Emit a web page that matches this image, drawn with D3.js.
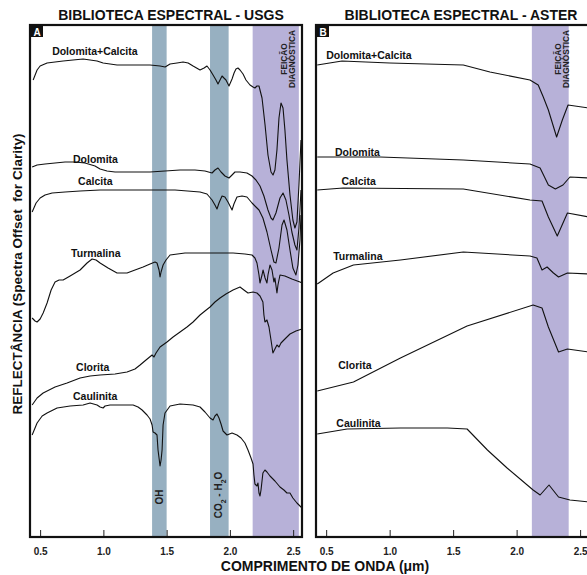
<!DOCTYPE html>
<html>
<head>
<meta charset="utf-8">
<script src="https://cdn.jsdelivr.net/npm/d3@7"></script>
<style>
  body { margin: 0; background: #fff; }
  svg text { font-family: Arial, "Liberation Sans", sans-serif; font-weight: bold; }
</style>
</head>
<body>
<div id="chart"></div>
<script>

// wavelength (um), reflectance + offset (arbitrary units)
var usgsDolCal = [[0.445,114.25],[0.476,116.75],[0.5,117.75],[0.555,118.5],[0.618,118.75],[0.682,119],[0.76,119.25],[0.84,119.5],[0.895,119.25],[0.95,119],[0.998,118.5],[1.053,118.25],[1.108,118],[1.211,118],[1.29,118],[1.369,118],[1.448,117.75],[1.488,117.5],[1.527,118.25],[1.582,118.5],[1.63,118.75],[1.67,118.5],[1.709,117.75],[1.764,116.75],[1.796,117.25],[1.819,117.75],[1.843,116.75],[1.867,115.5],[1.89,114.25],[1.906,113.25],[1.922,114.25],[1.938,115.25],[1.953,114.75],[1.969,114.25],[1.993,112.75],[2.017,114.5],[2.033,116],[2.048,117],[2.064,117.25],[2.08,116.75],[2.104,115.75],[2.127,114.25],[2.159,113],[2.183,112.5],[2.198,112.25],[2.214,112.75],[2.23,112.75],[2.254,109.75],[2.278,103],[2.301,95.5],[2.325,91.25],[2.341,90.5],[2.356,91.75],[2.372,96.75],[2.388,104.75],[2.404,108.5],[2.42,107.25],[2.435,101.75],[2.451,94.25],[2.475,85.5],[2.498,79.25],[2.514,77.25],[2.53,78.75],[2.546,88],[2.562,99.25]];
var usgsDolomita = [[0.437,92.5],[0.476,93],[0.539,93.25],[0.618,93.5],[0.697,93.75],[0.776,93.75],[0.855,93.5],[0.934,92.75],[0.974,92],[1.029,91.5],[1.092,91.25],[1.211,91.25],[1.369,91.25],[1.487,91.5],[1.606,91.75],[1.724,91.75],[1.803,91.5],[1.859,91],[1.882,91.75],[1.906,92.25],[1.93,91.25],[1.961,90.25],[1.993,89.75],[2.017,90.5],[2.04,91.25],[2.08,91.25],[2.135,91],[2.175,90.25],[2.206,89.25],[2.238,87.75],[2.269,85.25],[2.301,81.75],[2.325,79.75],[2.34,79.25],[2.364,81],[2.396,84.75],[2.42,86],[2.443,84.25],[2.467,80.5],[2.49,76.25],[2.514,73],[2.53,71.75],[2.546,77.25],[2.562,86.75]];
var usgsCalcita = [[0.437,81.25],[0.468,83.5],[0.5,84.75],[0.539,85.5],[0.595,86],[0.697,86.25],[0.816,86.5],[0.974,86.75],[1.132,86.75],[1.369,86.75],[1.566,86.75],[1.764,86.25],[1.819,85.75],[1.859,84.25],[1.882,83],[1.898,82],[1.914,83.5],[1.938,85.25],[1.961,85],[1.985,83.75],[2.017,81.75],[2.032,83.25],[2.056,85],[2.096,85.25],[2.135,85],[2.175,83.5],[2.206,82.5],[2.23,81.75],[2.261,79.75],[2.293,76.25],[2.325,71.75],[2.348,68.75],[2.364,68.5],[2.388,72.25],[2.412,78],[2.428,79.25],[2.451,76.75],[2.475,71.75],[2.498,67.25],[2.522,65.5],[2.538,68],[2.554,74.25],[2.562,80.5]];
var usgsTurmalina = [[0.437,54.75],[0.46,54],[0.476,53.75],[0.5,54.5],[0.524,56],[0.555,58.5],[0.587,61.75],[0.618,63.75],[0.65,64.25],[0.682,64.25],[0.737,65.25],[0.816,66.75],[0.871,68.5],[0.911,69.5],[0.942,69.25],[0.974,68.5],[1.037,67.25],[1.108,66],[1.187,66],[1.25,66.75],[1.314,67.5],[1.369,68.25],[1.408,68.75],[1.424,68.5],[1.44,66.75],[1.448,65],[1.456,66.25],[1.472,68],[1.495,69.25],[1.527,70.5],[1.645,71],[1.764,71],[1.922,71],[2.025,71],[2.119,70.75],[2.175,70.5],[2.198,69.75],[2.214,68.5],[2.23,65.5],[2.238,63.5],[2.254,65.5],[2.262,66.75],[2.278,64.75],[2.293,63.5],[2.301,65.5],[2.317,68],[2.333,66.75],[2.348,63.75],[2.356,64.75],[2.372,61],[2.38,63],[2.396,65.5],[2.435,65.25],[2.49,64.5],[2.554,63.75],[2.57,63.5]];
var usgsClorita = [[0.437,33],[0.476,34.75],[0.524,36],[0.618,37.5],[0.713,38.5],[0.816,39.75],[0.895,40.25],[0.974,40.5],[1.092,40.75],[1.187,41.25],[1.25,42],[1.29,43],[1.337,44.25],[1.385,45.5],[1.4,45],[1.416,46],[1.448,47.5],[1.503,48.75],[1.551,50],[1.606,51.25],[1.661,52.5],[1.709,53.75],[1.764,55.5],[1.803,56.5],[1.843,57.5],[1.882,58.75],[1.922,59.75],[1.969,60.75],[2.025,61.75],[2.08,62.5],[2.111,61.75],[2.143,61],[2.183,61.25],[2.214,61],[2.238,60.25],[2.261,58.75],[2.269,55.5],[2.277,53.75],[2.293,54.25],[2.309,52.5],[2.325,49.25],[2.34,46],[2.356,47],[2.372,48],[2.388,47.5],[2.404,48.5],[2.427,49.25],[2.475,50.75],[2.522,51.5],[2.57,52]];
var usgsCaulinita = [[0.437,25.5],[0.476,28.5],[0.516,30.25],[0.555,31],[0.634,32.25],[0.737,32.75],[0.84,33],[0.895,33.5],[0.95,33],[0.974,32.5],[0.998,32.25],[1.013,32.75],[1.053,33],[1.108,33],[1.235,33],[1.274,32.5],[1.306,31.75],[1.345,30.5],[1.369,29.5],[1.385,28],[1.393,26.25],[1.408,26],[1.424,25.5],[1.432,21.75],[1.44,19.75],[1.448,17.75],[1.456,19.25],[1.464,21.75],[1.472,28],[1.487,31],[1.527,32.75],[1.606,33.25],[1.709,33],[1.764,32.5],[1.803,31.25],[1.843,29.75],[1.867,29.25],[1.882,30.25],[1.898,30.75],[1.914,29.75],[1.93,28.25],[1.946,26.5],[1.977,25.5],[2.017,26],[2.056,25.5],[2.088,24.75],[2.119,23.5],[2.143,21.75],[2.167,19.75],[2.183,18.25],[2.19,15.5],[2.198,13.25],[2.214,12.75],[2.222,13.5],[2.23,11],[2.238,10.25],[2.246,11.75],[2.261,16],[2.277,16.75],[2.293,16.25],[2.317,15.25],[2.356,14],[2.396,12.5],[2.427,11.75],[2.451,11],[2.475,11],[2.498,9.75],[2.53,8.5],[2.57,7.25]];

var asterDolCal = [[0.43,118],[0.625,119],[1.0,118.5],[1.58,118],[1.79,116.25],[2.105,114.25],[2.17,113],[2.21,110],[2.25,106.75],[2.315,100],[2.36,104.25],[2.405,108],[2.57,107.25]];
var asterDolomita = [[0.43,95],[0.925,95],[1.58,94.25],[2.105,93.25],[2.185,92.25],[2.25,88],[2.305,87],[2.365,88],[2.42,90],[2.57,89.75]];
var asterCalcita = [[0.43,86.75],[0.635,87.25],[1.58,87],[2.105,84.25],[2.2,84],[2.25,80],[2.32,75.25],[2.4,81],[2.57,80]];
var asterTurmalina = [[0.43,63.25],[0.555,66],[0.715,68],[1.085,69.25],[1.58,71.25],[2.105,70.25],[2.16,69.75],[2.2,66.75],[2.24,67.5],[2.29,66],[2.33,65],[2.4,66],[2.57,65.75]];
var asterClorita = [[0.43,36.5],[0.715,38.75],[1.085,44.75],[1.61,52.75],[2.13,58],[2.2,57.25],[2.25,52.5],[2.33,46.25],[2.4,47],[2.57,46.25]];
var asterCaulinita = [[0.43,25.75],[0.665,27],[1.085,27.25],[1.455,27.25],[1.61,27],[1.77,21.75],[1.925,17.25],[2.13,11.75],[2.185,10.5],[2.255,13],[2.33,10],[2.42,9.25],[2.57,8.75]];

var mineralNames = ["Dolomita+Calcita", "Dolomita", "Calcita", "Turmalina", "Clorita", "Caulinita"];
// label anchor: [wavelength, value]
var usgsLabelPos = [[0.595,120.5], [0.76,93.5], [0.80,88], [0.745,70], [0.784,41.5], [0.76,34.25]];
var asterLabelPos = [[0.5,119.5], [0.57,95.25], [0.62,88], [0.555,69.25], [0.595,42], [0.58,27.5]];

var wavelengthTicks = [0.5, 1.0, 1.5, 2.0, 2.5];
var usgsBands = [[1.385, 1.50, "oh"], [1.843, 1.99, "co2"], [2.18, 2.545, "diag"]];
var asterBands = [[2.12, 2.41, "diag"]];

var svgW = 587, svgH = 575;
var plotTop = 25, plotBottom = 537;
var bandColor = { oh: "#97b0c1", co2: "#97b0c1", diag: "#b7b1d8" };

var svg = d3.select("#chart").append("svg")
	.attr("width", svgW).attr("height", svgH);

var y = d3.scaleLinear().domain([0, 128]).range([plotBottom, plotTop]);

var panels = [
	{ letter: "A", title: "BIBLIOTECA ESPECTRAL - USGS", titleX: 171, x0: 30, x1: 302,
	  series: [usgsDolCal, usgsDolomita, usgsCalcita, usgsTurmalina, usgsClorita, usgsCaulinita],
	  labels: usgsLabelPos, bands: usgsBands, diagX: [287, 295] },
	{ letter: "B", title: "BIBLIOTECA ESPECTRAL - ASTER", titleX: 461, x0: 316, x1: 589,
	  series: [asterDolCal, asterDolomita, asterCalcita, asterTurmalina, asterClorita, asterCaulinita],
	  labels: asterLabelPos, bands: asterBands, diagX: [561, 569] }
];

panels.forEach(function(p){

	var x = d3.scaleLinear().domain([0.42, 2.57]).range([p.x0, p.x1]);
	var g = svg.append("g");

	// absorption bands
	g.selectAll("rect.band").data(p.bands).enter().append("rect")
		.attr("class", "band")
		.attr("x", function(d){ return x(d[0]); })
		.attr("width", function(d){ return x(d[1]) - x(d[0]); })
		.attr("y", plotTop).attr("height", plotBottom - plotTop)
		.attr("fill", function(d){ return bandColor[d[2]]; });

	// spectra
	var line = d3.line()
		.x(function(d){ return x(d[0]); })
		.y(function(d){ return y(d[1]); });

	g.selectAll("path.spec").data(p.series).enter().append("path")
		.attr("class", "spec")
		.attr("d", line)
		.attr("fill", "none")
		.attr("stroke", "#111")
		.attr("stroke-width", 1.1)
		.attr("stroke-linejoin", "round");

	g.selectAll("text.lbl").data(p.labels).enter().append("text")
		.attr("class", "lbl")
		.attr("x", function(d){ return x(d[0]); })
		.attr("y", function(d){ return y(d[1]); })
		.style("font-size", "10.5px")
		.attr("fill", "#111")
		.text(function(d, i){ return mineralNames[i]; });

	// x axis, ticks pointing inward
	var ax = g.append("g")
		.attr("transform", "translate(0," + plotBottom + ")")
		.call(d3.axisBottom(x).tickValues(wavelengthTicks)
			.tickFormat(d3.format(".1f")).tickSizeInner(-7).tickSizeOuter(0).tickPadding(11));
	ax.select(".domain").remove();
	ax.selectAll(".tick line").attr("stroke", "#222").attr("stroke-width", 1);
	ax.selectAll(".tick text")
		.style("font-size", "10px")
		.style("font-family", "Arial, 'Liberation Sans', sans-serif")
		.style("font-weight", "bold")
		.attr("fill", "#222");

	// frame
	g.append("rect")
		.attr("x", p.x0).attr("y", plotTop)
		.attr("width", p.x1 - p.x0).attr("height", plotBottom - plotTop)
		.attr("fill", "none").attr("stroke", "#111").attr("stroke-width", 2.2);

	// corner letter
	g.append("rect").attr("x", p.x0 + 1).attr("y", plotTop + 1).attr("width", 12).attr("height", 11).attr("fill", "#111");
	g.append("text").attr("x", p.x0 + 7).attr("y", plotTop + 10.5)
		.attr("text-anchor", "middle").style("font-size", "10px").attr("fill", "#fff").text(p.letter);

	// panel title
	g.append("text").attr("x", p.titleX).attr("y", 20)
		.attr("text-anchor", "middle").style("font-size", "14px").attr("fill", "#111").text(p.title);

	// diagnostic feature label
	[["FEIÇÃO", p.diagX[0]], ["DIAGNOSTICA", p.diagX[1]]].forEach(function(t){
		g.append("text")
			.attr("transform", "translate(" + t[1] + ",59) rotate(-90)")
			.attr("text-anchor", "middle")
			.style("font-size", "8.3px").attr("fill", "#222")
			.text(t[0]);
	});

	if (p.letter == "A") {
		var oh = usgsBands[0], co = usgsBands[1];
		g.append("text")
			.attr("transform", "translate(" + (x((oh[0] + oh[1]) / 2) + 4) + ",497) rotate(-90)")
			.attr("text-anchor", "middle").style("font-size", "10px").attr("fill", "#222")
			.text("OH");
		var t = g.append("text")
			.attr("transform", "translate(" + (x((co[0] + co[1]) / 2) + 3) + ",495) rotate(-90)")
			.attr("text-anchor", "middle").style("font-size", "10px").attr("fill", "#222");
		t.append("tspan").text("CO");
		t.append("tspan").attr("baseline-shift", "sub").style("font-size", "7px").text("2");
		t.append("tspan").text(" - H");
		t.append("tspan").attr("baseline-shift", "sub").style("font-size", "7px").text("2");
		t.append("tspan").text("O");
	}
});

// axis titles
svg.append("text")
	.attr("transform", "translate(22,274) rotate(-90)")
	.attr("text-anchor", "middle")
	.style("font-size", "13.5px").style("white-space", "pre").attr("fill", "#111")
	.text("REFLECTÂNCIA (Spectra Offset  for Clarity)");

svg.append("text")
	.attr("x", 325).attr("y", 571)
	.attr("text-anchor", "middle")
	.style("font-size", "14px").attr("fill", "#111")
	.text("COMPRIMENTO DE ONDA (\u03bcm)");

</script>
</body>
</html>
